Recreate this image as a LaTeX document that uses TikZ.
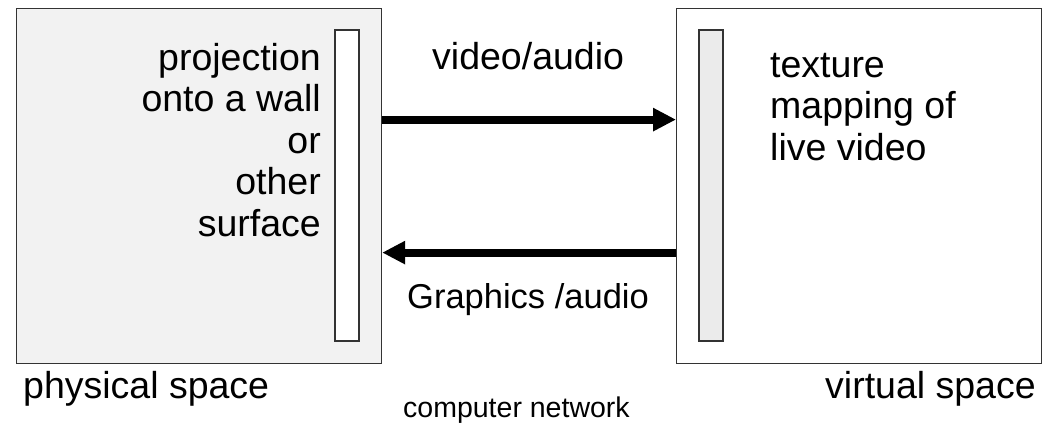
\documentclass[tikz,border=0pt]{standalone}
\usepackage{fontspec}
\setmainfont{Liberation Sans}
\usetikzlibrary{positioning}
\usetikzlibrary{arrows.meta}
\usetikzlibrary{calc}
\tikzset{>=Latex}

\begin{document}
\begin{tikzpicture}[x=1pt, y=-1pt,
  space/.style={draw=black!80, line width=1.2pt, minimum width=365pt, minimum height=355pt, inner sep=0pt},
  strip/.style={draw=black!80, line width=1.2pt, minimum width=24pt, minimum height=311pt, inner sep=0pt},
  lbl/.style={inner sep=0pt, font=\fontsize{37.5}{41.5}\selectfont},
  flow/.style={line width=8pt, -{Triangle[length=23pt,width=22pt]}}]
            \useasboundingbox (0,0) rectangle (1051,425);
            \node[space, fill=black!5, anchor=north west] (phys) at (16,8) {};
            \node[space, fill=white, anchor=north west] (virt) at (676,8) {};
            \node[strip, fill=white] (screen) at (347,185.5) {};
            \node[strip, fill=black!8] (tex) at (711,185.5) {};
            \node[lbl, align=right, anchor=north east] (proj) at (321,43) {projection\\onto a wall\\or\\other\\surface};
            \node[lbl, align=left, anchor=north west] (map) at (770,53) {texture\\mapping of\\live video};
            \node[lbl, anchor=base west] (fwd) at (432,70) {video/audio};
            \node[lbl, anchor=base west, font=\fontsize{34.5}{40}\selectfont] (back) at (407,308) {Graphics /audio};
            \node[lbl, anchor=base west] (physlbl) at (23,398) {physical space};
            \node[lbl, anchor=base west] (virtlbl) at (825,398) {virtual space};
            \node[lbl, anchor=base west, font=\fontsize{28.5}{34}\selectfont] (net) at (403,417) {computer network};
            \draw[flow] ([yshift=66.5pt]phys.east) -- ([yshift=66.5pt]virt.west);
            \draw[flow] ([yshift=-66.5pt]virt.west) -- ([yshift=-66.5pt]phys.east);
        \end{tikzpicture}
\end{document}
